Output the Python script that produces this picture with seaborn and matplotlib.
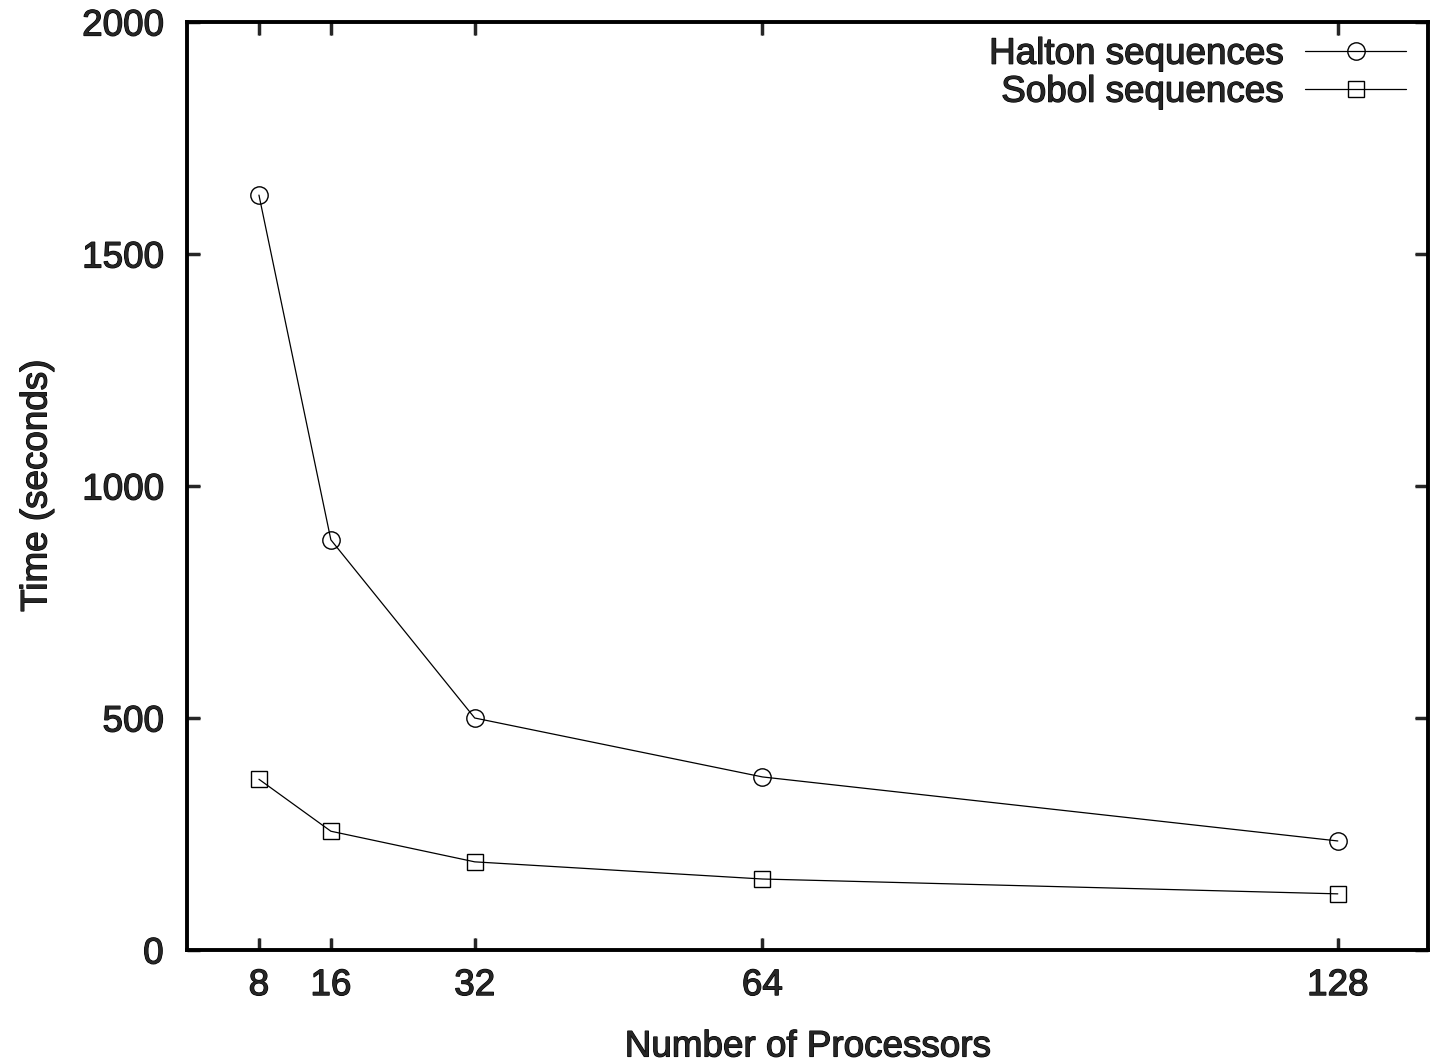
import matplotlib
matplotlib.use('Agg')
import matplotlib.pyplot as plt
import matplotlib.patheffects as pe
import numpy as np
import pandas as pd
import seaborn as sns

# data
processors = [8, 16, 32, 64, 128]
halton = [1627, 884, 500, 373, 235]
sobol = [368, 256, 190, 153, 121]

sns.set_style('white')
plt.rcParams['font.family'] = ['Liberation Sans', 'DejaVu Sans']
plt.rcParams['path.effects'] = [pe.withStroke(linewidth=0.9, foreground='black')]

data = pd.DataFrame({
    'procs': processors * 2,
    'time': halton + sobol,
    'series': ['Halton sequences'] * 5 + ['Sobol sequences'] * 5,
})

fig = plt.figure(figsize=(14.32, 10.63), dpi=100)
ax = fig.add_axes([0.1306, 0.1063, 0.8664, 0.8730])

fs = 26.5

sns.lineplot(data=data[data['series'] == 'Halton sequences'], x='procs', y='time',
             ax=ax, color='black', lw=0.9, marker='o', markersize=12.5,
             markerfacecolor='none', markeredgecolor='black', markeredgewidth=1.0,
             label='Halton sequences')
sns.lineplot(data=data[data['series'] == 'Sobol sequences'], x='procs', y='time',
             ax=ax, color='black', lw=0.9, marker='s', markersize=12,
             markerfacecolor='none', markeredgecolor='black', markeredgewidth=1.0,
             label='Sobol sequences')
# keep the stroke effect for text only
for ln in ax.lines:
    ln.set_path_effects([])

ax.set_xlim(0, 138)
ax.set_ylim(0, 2000)
ax.set_xticks(processors)
ax.set_yticks([0, 500, 1000, 1500, 2000])
ax.set_xlabel('Number of Processors', fontsize=fs, labelpad=19)
ax.set_ylabel('Time (seconds)', fontsize=fs, labelpad=20)

for s in ax.spines.values():
    s.set_linewidth(2.8)
    s.set_color('black')
    s.set_path_effects([])
ax.tick_params(direction='in', length=9, width=2.5, labelsize=fs,
               top=True, right=True, bottom=True, left=True)
ax.tick_params(axis='x', pad=13)
ax.tick_params(axis='y', pad=17)

leg = ax.legend(loc='upper right', bbox_to_anchor=(0.9945, 1.0), frameon=False,
                markerfirst=False, fontsize=fs,
                handlelength=2.75, handletextpad=0.6, labelspacing=0.08,
                borderaxespad=0.0)
for t in leg.get_texts():
    t.set_ha('right')
for h in leg.legend_handles:
    h.set_path_effects([])
leg._legend_box.align = 'right'

fig.savefig('out.png', dpi=100)
